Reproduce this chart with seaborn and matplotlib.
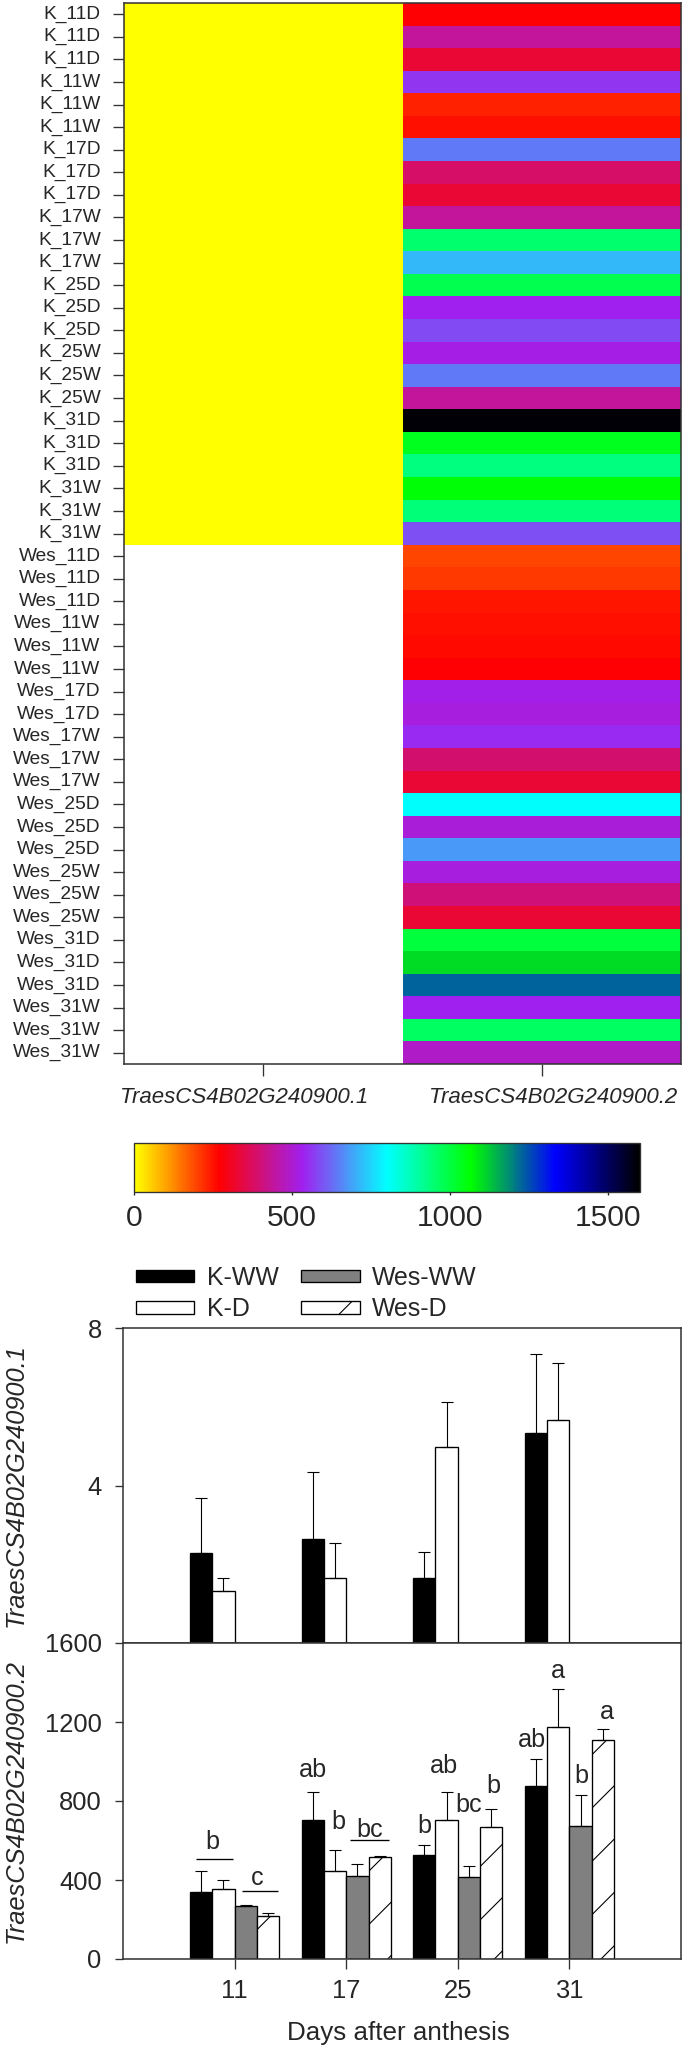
import numpy as np
import pandas as pd
import seaborn as sns
import matplotlib.pyplot as plt
import matplotlib.transforms as mtransforms
from matplotlib.colors import LinearSegmentedColormap
from matplotlib.patches import Patch
from matplotlib.container import BarContainer

# ---- heatmap data (per biological replicate) ----
samples = (["K_11D"] * 3 + ["K_11W"] * 3 + ["K_17D"] * 3 + ["K_17W"] * 3
           + ["K_25D"] * 3 + ["K_25W"] * 3 + ["K_31D"] * 3 + ["K_31W"] * 3
           + ["Wes_11D"] * 3 + ["Wes_11W"] * 3 + ["Wes_17D"] * 2 + ["Wes_17W"] * 3
           + ["Wes_25D"] * 3 + ["Wes_25W"] * 3 + ["Wes_31D"] * 3 + ["Wes_31W"] * 3)
gene_ids = ["TraesCS4B02G240900.1", "TraesCS4B02G240900.2"]

# .1 is only expressed in K (tiny values, all plain yellow), not detected in Wes
tx1_k = [1.2, 1.5, 1.3, 2.1, 3.6, 1.2, 1.4, 2.3, 1.3, 3.5, 1.7, 2.8,
         4.6, 5.8, 4.1, 1.3, 2.0, 1.6, 5.2, 6.0, 4.3, 3.8, 5.9, 5.2]
tx1_wes = [np.nan] * 23
tx2_expr = [270, 440, 330, 560, 235, 250, 640, 385, 325, 440, 955, 718,
            984, 535, 587, 520, 640, 440, 1590, 1033, 933, 1060, 940, 590,
            196, 210, 245, 250, 258, 270, 530, 515, 545, 390, 330, 805, 510, 677,
            515, 400, 325, 1000, 1100, 1225, 535, 965, 490]

# ---- bar chart data ----
days = ["11", "17", "25", "31"]
groups = ["K-WW", "K-D", "Wes-WW", "Wes-D"]

tx1_kww = [2.29, 2.64, 1.65, 5.34]
tx1_kww_se = [1.38, 1.70, 0.67, 1.99]
tx1_kd = [1.32, 1.65, 4.98, 5.66]
tx1_kd_se = [0.33, 0.89, 1.14, 1.44]

tx2_kww = [339, 702, 528, 874]
tx2_kww_se = [108, 142, 51, 140]
tx2_kd = [353, 447, 702, 1173]
tx2_kd_se = [49, 103, 142, 196]
tx2_wesww = [267, 420, 415, 675]
tx2_wesww_se = [6, 61, 54, 154]
tx2_wesd = [219, 515, 667, 1111]
tx2_wesd_se = [12, 8, 94, 54]

# significance letters (day index + offset, height)
letter_txt = ["b", "c", "ab", "b", "bc", "b", "ab", "bc", "b", "ab", "a", "b", "a"]
letter_day = [0, 0, 1, 1, 1, 2, 2, 2, 2, 3, 3, 3, 3]
letter_dx = [-0.2, 0.2, -0.3, -0.07, 0.21, -0.3, -0.12, 0.1, 0.32, -0.34, -0.1, 0.11, 0.34]
letter_y = [592, 410, 959, 692, 655, 672, 976, 781, 874, 1110, 1457, 925, 1249]
line_y = [508, 346, 601]
line_x0 = [-0.35, 0.07, 1.03]
line_x1 = [-0.01, 0.39, 1.38]

sns.set_theme(style="ticks")
plt.rcParams["font.family"] = ["Liberation Sans", "DejaVu Sans"]
plt.rcParams["hatch.linewidth"] = 0.5

W, H, DPI = 685, 2049, 160
fig = plt.figure(figsize=(W / DPI, H / DPI), dpi=DPI)

def box(x0, y0, x1, y1):
    return [x0 / W, 1 - y1 / H, (x1 - x0) / W, (y1 - y0) / H]

# ---------------- heatmap ----------------
hm = np.column_stack([tx1_k + tx1_wes, tx2_expr])
ramp = LinearSegmentedColormap.from_list(
    "ramp", ["#FFFF00", "#FF0000", "#A020F0", "#00FFFF", "#00FF00", "#0000FF", "#000000"])

ax_hm = fig.add_axes(box(124, 3, 681, 1064))
ax_cb = fig.add_axes(box(134, 1143, 640, 1192))
sns.heatmap(hm, ax=ax_hm, cmap=ramp, vmin=0, vmax=1600, cbar_ax=ax_cb,
            cbar_kws={"orientation": "horizontal", "ticks": [0, 500, 1000, 1500]},
            xticklabels=gene_ids, yticklabels=samples)

ax_hm.tick_params(axis="y", left=True, length=5, width=0.6, pad=5.5,
                  labelsize=8.6, labelrotation=0, color="#333333")
ax_hm.tick_params(axis="x", bottom=True, length=5.4, width=0.6, pad=5,
                  labelsize=10, labelrotation=0, color="#333333")
# gene labels sit a little off their ticks in the original
for lab, shift in zip(ax_hm.get_xticklabels(), [-19, 11]):
    lab.set_fontstyle("italic")
    lab.set_transform(lab.get_transform()
                      + mtransforms.ScaledTranslation(shift / DPI, 0, fig.dpi_scale_trans))
for s in ax_hm.spines.values():
    s.set_visible(True)
    s.set_color("#333333")
    s.set_linewidth(0.7)

cbar = ax_hm.collections[0].colorbar
ax_cb.tick_params(length=1.5, width=0.6, labelsize=13.5, pad=4)
cbar.outline.set_linewidth(0.6)
cbar.outline.set_edgecolor("#333333")

# ---------------- bar charts ----------------
pal = {"K-WW": "black", "K-D": "white", "Wes-WW": "#808080", "Wes-D": "white"}

top_df = pd.DataFrame({
    "day": days * 2,
    "group": ["K-WW"] * 4 + ["K-D"] * 4,
    "value": tx1_kww + tx1_kd,
})
bot_df = pd.DataFrame({
    "day": days * 4,
    "group": [g for g in groups for _ in days],
    "value": tx2_kww + tx2_kd + tx2_wesww + tx2_wesd,
})
top_err = {"K-WW": tx1_kww_se, "K-D": tx1_kd_se}
bot_err = {"K-WW": tx2_kww_se, "K-D": tx2_kd_se, "Wes-WW": tx2_wesww_se, "Wes-D": tx2_wesd_se}

ax1 = fig.add_axes(box(123, 1328, 681, 1643))
ax2 = fig.add_axes(box(123, 1643, 681, 1959))


def draw_bars(ax, df, errs):
    sns.barplot(data=df, x="day", y="value", hue="group", order=days, hue_order=groups,
                palette=pal, saturation=1, edgecolor="black", linewidth=0.6,
                errorbar=None, legend=False, width=0.8, ax=ax)
    bars = [c for c in ax.containers if isinstance(c, BarContainer)]
    present = [g for g in groups if g in errs]
    for cont, g in zip(bars, present):
        xs = [p.get_x() + p.get_width() / 2 for p in cont.patches]
        hs = [p.get_height() for p in cont.patches]
        ax.errorbar(xs, hs, yerr=[np.zeros(len(hs)), errs[g]], fmt="none",
                    ecolor="black", elinewidth=0.5, capsize=2.7, capthick=0.5)
        if g == "Wes-D":
            for p in cont.patches:
                p.set_hatch("/")
    ax.set_xlim(-1, 4)
    ax.set_xlabel("")
    ax.set_ylabel("")
    for s in ax.spines.values():
        s.set_visible(True)
        s.set_color("#333333")
        s.set_linewidth(0.7)
    ax.tick_params(axis="y", direction="out", length=3.6, width=0.6, pad=6, labelsize=11.5,
                   color="#333333")
    ax.tick_params(axis="x", direction="out", length=4.5, width=0.6, pad=4.5, labelsize=11.5,
                   color="#333333")


draw_bars(ax1, top_df, top_err)
ax1.set_ylim(0, 8)
ax1.set_yticks([4, 8])
ax1.set_xticklabels([])

draw_bars(ax2, bot_df, bot_err)
ax2.set_ylim(0, 1600)
ax2.set_yticks([0, 400, 800, 1200, 1600])

for t, d, dx, y in zip(letter_txt, letter_day, letter_dx, letter_y):
    ax2.text(d + dx, y, t, ha="center", va="center", fontsize=11.3)
ax2.hlines(line_y, line_x0, line_x1, color="black", lw=0.6)

ax1.set_ylabel("TraesCS4B02G240900.1", fontsize=11.5, fontstyle="italic", va="center")
ax1.yaxis.set_label_coords(-0.193, 0.5)
ax2.set_ylabel("TraesCS4B02G240900.2", fontsize=11.5, fontstyle="italic", va="center")
ax2.yaxis.set_label_coords(-0.193, 0.5)
ax2.set_xlabel("Days after anthesis", fontsize=11.7, va="center")
ax2.xaxis.set_label_coords(0.493, -0.234)

handles = [Patch(facecolor=pal[g], edgecolor="black", linewidth=0.6,
                 hatch="/" if g == "Wes-D" else None) for g in groups]
fig.legend(handles, groups, loc="upper left", bbox_to_anchor=(136 / W, 1 - 1266 / H),
           ncol=2, frameon=False, fontsize=11.2, handlelength=2.35, handleheight=0.38,
           handletextpad=0.5, columnspacing=0.9, labelspacing=0.3,
           borderpad=0, borderaxespad=0)

fig.savefig("out.png", dpi=DPI)
